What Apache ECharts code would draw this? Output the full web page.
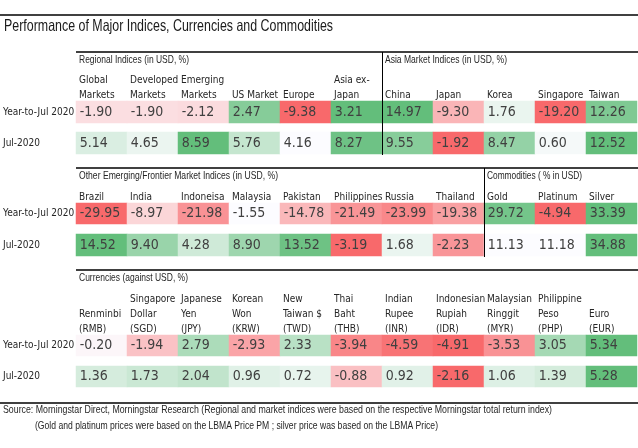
<!DOCTYPE html>
<html>
<head>
<meta charset="utf-8">
<script src="https://cdn.jsdelivr.net/npm/echarts@6/dist/echarts.min.js"></script>
<style>html,body{margin:0;padding:0;background:#fff}#c{width:638px;height:448px}</style>
</head>
<body>
<div id="c"></div>
<script>
// ---------- data ----------
const rowLabels = ['Year-to-Jul 2020', 'Jul-2020'];

const regionalCats = ['Global\nMarkets', 'Developed\nMarkets', 'Emerging\nMarkets', 'US Market', 'Europe', 'Asia ex-\nJapan'];
const regionalYtd = [-1.90, -1.90, -2.12, 2.47, -9.38, 3.21];
const regionalJul = [5.14, 4.65, 8.59, 5.76, 4.16, 8.27];

const asiaCats = ['China', 'Japan', 'Korea', 'Singapore', 'Taiwan'];
const asiaYtd = [14.97, -9.30, 1.76, -19.20, 12.26];
const asiaJul = [9.55, -1.92, 8.47, 0.60, 12.52];

const emCats = ['Brazil', 'India', 'Indoneisa', 'Malaysia', 'Pakistan', 'Philippines', 'Russia', 'Thailand'];
const emYtd = [-29.95, -8.97, -21.98, -1.55, -14.78, -21.49, -23.99, -19.38];
const emJul = [14.52, 9.40, 4.28, 8.90, 13.52, -3.19, 1.68, -2.23];

const commCats = ['Gold', 'Platinum', 'Silver'];
const commYtd = [29.72, -4.94, 33.39];
const commJul = [11.13, 11.18, 34.88];

const currCats = ['Renminbi\n(RMB)', 'Singapore\nDollar\n(SGD)', 'Japanese\nYen\n(JPY)', 'Korean\nWon\n(KRW)', 'New\nTaiwan $\n(TWD)', 'Thai\nBaht\n(THB)', 'Indian\nRupee\n(INR)', 'Indonesian\nRupiah\n(IDR)', 'Malaysian\nRinggit\n(MYR)', 'Philippine\nPeso\n(PHP)', 'Euro\n(EUR)'];
const currYtd = [-0.20, -1.94, 2.79, -2.93, 2.33, -3.94, -4.59, -4.91, -3.53, 3.05, 5.34];
const currJul = [1.36, 1.73, 2.04, 0.96, 0.72, -0.88, 0.92, -2.16, 1.06, 1.39, 5.28];

// ---------- styling ----------
const FONT = "'DejaVu Sans Condensed', sans-serif";
const GFONT = "'Liberation Sans', Arial, sans-serif";
const TXT = '#404040';
const LOW = [248, 105, 107], MID = [252, 252, 255], HIGH = [99, 190, 123];

function mix(a, b, t) {
  return 'rgb(' + a.map((x, i) => Math.round(x + (b[i] - x) * t)).join(',') + ')';
}
function scaleColor(v, arr) {
  const mn = Math.min(...arr), mx = Math.max(...arr);
  const mid = Math.min(Math.max(0, mn), mx);
  if (v < mid) return mix(MID, LOW, (mid - v) / (mid - mn));
  if (v > mid) return mix(MID, HIGH, (v - mid) / (mx - mid));
  return mix(MID, MID, 0);
}

const rows = [
  { segs: [regionalYtd, asiaYtd], cats: regionalCats.concat(asiaCats), label: rowLabels[0], top: 101, h: 22, header: true },
  { segs: [regionalJul, asiaJul], cats: regionalCats.concat(asiaCats), label: rowLabels[1], top: 132, h: 22 },
  { segs: [emYtd, commYtd], cats: emCats.concat(commCats), label: rowLabels[0], top: 203, h: 21, header: true },
  { segs: [emJul, commJul], cats: emCats.concat(commCats), label: rowLabels[1], top: 234, h: 22 },
  { segs: [currYtd], cats: currCats, label: rowLabels[0], top: 335, h: 21, header: true },
  { segs: [currJul], cats: currCats, label: rowLabels[1], top: 366, h: 21 }
];

const grid = [], xAxis = [], yAxis = [], series = [];
rows.forEach((r, gi) => {
  grid.push({ left: 76, width: 561, top: r.top, height: r.h, containLabel: false, outerBoundsMode: 'none' });
  const catAxisIndex = xAxis.length;
  xAxis.push({
    type: 'category', gridIndex: gi, data: r.cats,
    axisLine: { show: false }, axisTick: { show: false }, axisLabel: { show: false }, splitLine: { show: false }
  });
  if (r.header) {
    xAxis.push({
      type: 'value', gridIndex: gi, position: 'top', min: 0, max: r.cats.length, interval: 1,
      axisLine: { show: false }, axisTick: { show: false }, splitLine: { show: false },
      axisLabel: {
        show: true, margin: -2, align: 'left', padding: [0, 0, 0, 3],
        fontFamily: FONT, fontSize: 10, lineHeight: 15, color: '#262626',
        formatter: v => r.cats[Math.round(v)] || ''
      }
    });
  }
  yAxis.push({
    type: 'category', gridIndex: gi, data: [r.label],
    axisLine: { show: false }, axisTick: { show: false }, splitLine: { show: false },
    axisLabel: { show: true, align: 'left', margin: 73, width: 90, overflow: 'none', padding: [0, 0, gi % 2 ? 12 : 8, 0], fontFamily: FONT, fontSize: 10, color: '#262626' }
  });
  const data = [];
  let off = 0;
  r.segs.forEach(seg => {
    seg.forEach((v, i) => {
      data.push({ value: [off + i, 0, v], itemStyle: { color: scaleColor(v, seg) } });
    });
    off += seg.length;
  });
  series.push({
    type: 'heatmap', xAxisIndex: catAxisIndex, yAxisIndex: gi, data: data,
    label: {
      show: true, position: [4, '50%'], align: 'left', verticalAlign: 'middle',
      fontFamily: FONT, fontSize: 14, color: TXT,
      formatter: p => p.value[2].toFixed(2)
    },
    emphasis: { disabled: true }
  });
});

const mctx = document.createElement('canvas').getContext('2d');
function hline(x1, x2, y) {
  return { type: 'line', z: 100, shape: { x1: x1, y1: y, x2: x2, y2: y }, style: { stroke: '#404040', lineWidth: 2 } };
}
function vline(x, y1, y2) {
  return { type: 'line', z: 100, shape: { x1: x, y1: y1, x2: x, y2: y2 }, style: { stroke: '#000', lineWidth: 1 } };
}
// text squeezed horizontally to the reference's condensed width
function txt(x, y, s, size, targetW, color) {
  const font = size + 'px ' + GFONT;
  mctx.font = font;
  const w = mctx.measureText(s).width;
  return { type: 'text', z: 100, x: x, y: y, scaleX: targetW / w,
    style: { text: s, fill: color || '#262626', font: font, textVerticalAlign: 'middle' } };
}

const chart = echarts.init(document.getElementById('c'), null, { renderer: 'canvas' });
chart.setOption({
  animation: false,
  backgroundColor: '#fff',
  grid: grid, xAxis: xAxis, yAxis: yAxis, series: series,
  graphic: [
    hline(0, 638, 15),
    hline(76, 638, 52),
    hline(76, 638, 168),
    hline(76, 638, 270),
    hline(0, 638, 403),
    vline(382.5, 52, 155),
    vline(484.5, 168, 257),
    txt(4, 26.5, 'Performance of Major Indices, Currencies and Commodities', 16.5, 329, '#1a1a1a'),
    txt(79, 60, 'Regional Indices (in USD, %)', 11.5, 110),
    txt(385, 60, 'Asia Market Indices (in USD, %)', 11.5, 122),
    txt(79, 176, 'Other Emerging/Frontier Market Indices (in USD, %)', 11.5, 199),
    txt(487, 176, 'Commodities ( % in USD)', 11.5, 95),
    txt(79, 278, 'Currencies (against USD, %)', 11.5, 109),
    txt(3, 410, 'Source: Morningstar Direct, Morningstar Research (Regional and market indices were based on the respective Morningstar total return index)', 11.5, 549),
    txt(35, 426, '(Gold and platinum prices were based on the LBMA Price PM ; silver price was based on the LBMA Price)', 11.5, 403)
  ]
});
</script>
</body>
</html>
